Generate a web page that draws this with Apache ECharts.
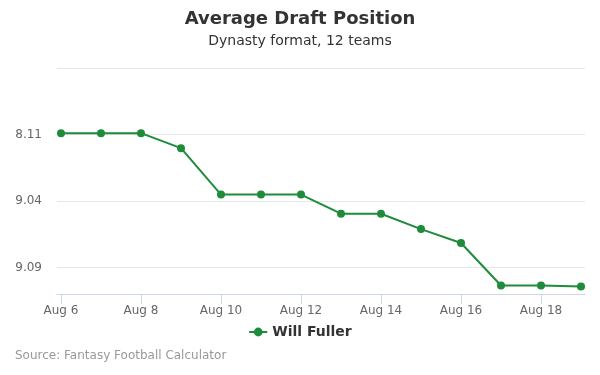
<!DOCTYPE html>
<html>
<head>
<meta charset="utf-8">
<script src="https://cdn.jsdelivr.net/npm/echarts@6/dist/echarts.min.js"></script>
<style>html,body{margin:0;padding:0;background:#fff}#c{width:600px;height:375px}</style>
</head>
<body>
<div id="c"></div>
<script>
const categories = ["Aug 6","Aug 7","Aug 8","Aug 9","Aug 10","Aug 11","Aug 12","Aug 13","Aug 14","Aug 15","Aug 16","Aug 17","Aug 18","Aug 19"];
// overall pick numbers (12-team league)
const adpValues = [94.9, 94.9, 94.9, 96.03, 99.52, 99.52, 99.52, 100.96, 100.96, 102.12, 103.16, 106.36, 106.36, 106.44];
const labelIndices = [0, 2, 4, 6, 8, 10, 12];
const yTicks = [90, 95, 100, 105];
const seriesName = "Will Fuller";
const teams = 12;

function pickLabel(p) {
  const r = Math.floor((p - 1) / teams) + 1;
  const k = ((p - 1) % teams) + 1;
  return r + '.' + (k < 10 ? '0' + k : k);
}

const chart = echarts.init(document.getElementById('c'), null, {renderer: 'canvas'});
const font = 'DejaVu Sans';
chart.setOption({
  animation: false,
  textStyle: {fontFamily: font},
  title: [
    {text: 'Average Draft Position', left: 'center', top: 10, padding: 0,
     textStyle: {fontSize: 18, fontWeight: 'bold', color: '#333', fontFamily: font}},
    {text: 'Dynasty format, 12 teams', left: 'center', top: 34, padding: 0,
     textStyle: {fontSize: 14, fontWeight: 'normal', color: '#333', fontFamily: font}},
    {text: 'Source: Fantasy Football Calculator', left: 15, top: 350, padding: 0,
     textStyle: {fontSize: 12, fontWeight: 'normal', color: '#999', fontFamily: font}}
  ],
  legend: {
    data: [seriesName], left: 'center', top: 325, padding: 0, itemWidth: 18, itemHeight: 11, itemGap: 6,
    textStyle: {fontSize: 14, fontWeight: 'bold', color: '#333', fontFamily: font}
  },
  grid: {left: 57, right: 15, top: 68, bottom: 81, containLabel: false},
  xAxis: {
    type: 'value', min: -0.1, max: 13.1,
    axisLine: {show: true, lineStyle: {color: '#ccd6eb'}},
    axisTick: {show: true, length: 10, lineStyle: {color: '#ccd6eb'}, customValues: labelIndices},
    axisLabel: {color: '#666', fontSize: 12, margin: 11, customValues: labelIndices,
      formatter: v => categories[Math.round(v)] || ''},
    splitLine: {show: false}
  },
  yAxis: {
    type: 'value', inverse: true, min: 90, max: 107, interval: 5,
    axisLine: {show: false}, axisTick: {show: false},
    axisLabel: {color: '#666', fontSize: 12, margin: 15, showMaxLabel: false,
      formatter: v => (yTicks.indexOf(v) <= 0 ? '' : pickLabel(v))},
    splitLine: {lineStyle: {color: '#e6e6e6'}}
  },
  series: [{
    name: seriesName, type: 'line',
    data: adpValues.map((v, i) => [i, v]),
    symbol: 'circle', symbolSize: 8,
    lineStyle: {color: '#1e8c3a', width: 2},
    itemStyle: {color: '#1e8c3a'}
  }]
});
</script>
</body>
</html>
